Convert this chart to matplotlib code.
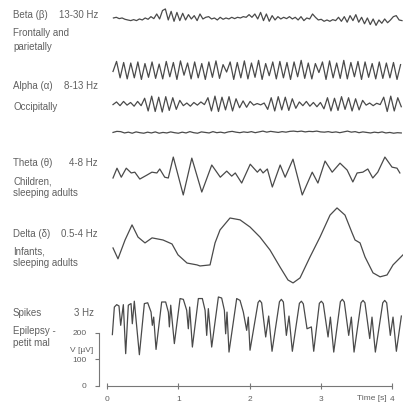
import matplotlib
matplotlib.use("Agg")
import matplotlib.pyplot as plt
import numpy as np

# --- data (µV) ---
beta_v = [0, 2.5, -2.5, 0, -5, -7.6, -10, -6.3, -10, -3.8, -7.6, 0, -5, 5, -2.5, 15,
          -3.8, 28, 34, -7.6, 25, -12.6, 21, -10, 17.6, -7.6, 12.6, -3.8, 8.8, -10, 15,
          -3.8, 2.5, 5, -3.8, 0, -7.6, 2.5, -5, 0, -3.8, 2.5, -2.5, 2.5, 0, 5, 2.5, 12.6,
          2.5,
          15, -3.8, 21, -10, 15, -12.6, 8.8, -7.6, 5, -3.8, 2.5, -2.5, 5, -3.8, 2.5, -7.6,
          5, -10, 0, -3.8, 15, 2.5, -7.6, -5, -12.6, -7.6, -12.6, -6.3, -10, 2.5, -12.6,
          5, -16, 8.8, -10, 12.6, -16, 2.5, -22, 0, -25, -3.8, -28, -7.6, -20, -3.8, -18,
          -7.6, 5, 8.8, -7.6, -10]

alpha1_v = [-6, 32, -30, 28, -34, 26, -30, 30, -36, 24,
            -28, 30, -32, 22, -34, 32, -26, 28, -36, 34,
            -20, 26, -34, 30, -30, 24, -36, 30, -28, 34,
            -32, 20, -8, 30, -36, 28, -30, 34, -34, 26,
            -28, 36, -36, 24, -22, 30, -34, 32, -30, 28,
            -36, 30, -26, 36, -32, 26, -34, 24, -10, 30,
            -36, 34, -30, 26, -32, 36, -34, 28, -26, 32,
            -36, 30, -28, 24, -34, 30, -32, 26, -30, 28,
            -36, 20]

alpha2_v = [-2, 8, -6, 10, -4, 6, -8, 10, -6,
            22, -26, 30, -28, 26, -30, 28, -24, 24, -20, 14,
            -6, 4, -8, 6, -4, 8, -2,
            24, -26, 30, -28, 26, -22, 28, -26, 20,
            -14, 12, -12, 10,
            -4, 2, -3, 4,
            -20, 24, -26, 28, -22, 26, -24, 20, -16,
            8, -6, 10, -8, 6, -10, 6,
            -18, 24, -26, 22, -24, 28, -20, 24, -26, 20, -22, 14,
            -4, 4, -6, 3, -2,
            26, -28, 30, -26, 24, -10]

flat_v = [0, 4, 3, -2, 1, -3, 2, -1, -3, 1, -2, 2, -3, 0, -2, 2, -1, -3, 1, -2,
          3, -1, -3, 2, 0, -2, 3, -1, 1, -2, 2, 4, 1, -1, 2, 0, 3, -1, 2, 5,
          1, 4, 2, 0, 3, 1, 4, 5, 3, 5, 2, 4, 3, 5, 2, 1, 3, 0, 2, -1,
          2, 5, 1, 3, -1, 2, 0, -2, 1, -1, 2, -2, 0, -3, -1, -2]

theta_t = [0.084, 0.14, 0.20, 0.27, 0.34, 0.39, 0.46, 0.56, 0.63, 0.70, 0.74, 0.81,
           0.86, 0.93, 1.07, 1.19, 1.33, 1.47, 1.59, 1.68, 1.75, 1.80, 1.89, 2.01,
           2.11, 2.15, 2.19, 2.25, 2.32, 2.43, 2.50, 2.61, 2.74, 2.88, 2.96, 3.06,
           3.16, 3.27, 3.37, 3.45, 3.51, 3.59, 3.66, 3.73, 3.80, 3.90, 4.00, 4.07, 4.11]
theta_v = [-11, 26, -8, 26, 8, 11, -15, 0, 11, 8, 23, -8,
           -11, 68, -75, 64, -64, 38, -8, 15, -4, 8, -30, 41,
           11, 23, 8, 23, -45, 38, -8, 60, -75, 11, -30, 53,
           11, 45, 19, -26, 8, 11, 23, -11, 11, 68, 30, 26, 8]

delta_t = [0.084, 0.154, 0.253, 0.351, 0.435, 0.533, 0.632, 0.786, 0.912, 0.996,
           1.123, 1.263, 1.305, 1.446, 1.516, 1.586, 1.726, 1.867, 2.007, 2.147,
           2.288, 2.428, 2.540, 2.611, 2.709, 2.849, 2.989, 3.130, 3.228, 3.340,
           3.439, 3.481, 3.551, 3.621, 3.733, 3.832, 3.930, 4.014, 4.154]
delta_v = [0, -41, 30, 87, 41, 19, 38, 30, 15, -26,
           -57, -64, -68, -64, 19, 68, 113, 106, 79, 41,
           -8, -72, -121, -132, -113, -34, 41, 124, 151, 124,
           57, 30, 19, -34, -94, -109, -102, -64, -26]

spike_t = [0.075, 0.103, 0.136, 0.168, 0.192, 0.229, 0.262, 0.299, 0.337, 0.355,
           0.383, 0.454, 0.524, 0.571, 0.618, 0.636, 0.655, 0.688, 0.767, 0.823,
           0.861, 0.875, 0.894, 0.945, 1.025, 1.071, 1.118, 1.141, 1.160, 1.198,
           1.282, 1.338, 1.376, 1.399, 1.422, 1.469, 1.563, 1.609, 1.647, 1.665,
           1.684, 1.712, 1.820, 1.867, 1.913, 1.960, 1.983, 2.007, 2.12, 2.143,
           2.17, 2.227, 2.269, 2.316, 2.42, 2.447, 2.475, 2.517, 2.554, 2.601,
           2.70, 2.728, 2.755, 2.807, 2.868, 2.901, 2.98, 3.008, 3.035, 3.102,
           3.135, 3.182, 3.275, 3.303, 3.33, 3.392, 3.429, 3.467, 3.565, 3.593,
           3.62, 3.687, 3.719, 3.766, 3.87, 3.897, 3.925, 3.976, 4.014, 4.061, 4.131]
spike_v = [194, 298, 307, 302, 229, 307, 122, 305, 311, 235,
           320, 118, 311, 314, 279, 229, 260, 138, 317, 317,
           279, 223, 305, 160, 330, 327, 286, 216, 298, 147,
           330, 330, 286, 191, 292, 147, 336, 332, 286, 197,
           279, 128, 330, 323, 279, 210, 260, 135, 315, 323,
           314, 185, 264, 131, 318, 327, 317, 191, 264, 131,
           312, 320, 310, 216, 223, 131, 312, 320, 311, 185,
           260, 128, 318, 327, 317, 191, 260, 128, 314, 323,
           314, 179, 260, 128, 314, 323, 314, 191, 260, 131, 264]

x_ticks = [0, 1, 2, 3, 4]
y_ticks = [0, 100, 200]

# (name, band, description lines, y of each line in px)
labels = [
    ("Beta (β)", "13-30 Hz", ["Frontally and", "parietally"], 15, [33, 46.5]),
    ("Alpha (α)", "8-13 Hz", ["Occipitally"], 86, [107]),
    ("Theta (θ)", "4-8 Hz", ["Children,", "sleeping adults"], 163, [181.5, 192.5]),
    ("Delta (δ)", "0.5-4 Hz", ["Infants,", "sleeping adults"], 234, [252, 263]),
    ("Spikes", "3 Hz", ["Epilepsy -", "petit mal"], 313, [330.5, 342.5]),
]

# --- figure ---
W, H = 403, 407
fig = plt.figure(figsize=(W / 100, H / 100), dpi=100)
ax = fig.add_axes([0, 0, 1, 1])
ax.set_xlim(-1.502, 4.154)
ax.set_ylim(-79.3, 1456.8)

line_kw = dict(color="#4a4a4a", lw=0.9, solid_joinstyle="round")
ax.plot(np.linspace(0.09, 4.14, len(beta_v)), np.array(beta_v) + 1389, **line_kw)
ax.plot(np.linspace(0.084, 4.12, len(alpha1_v)), np.array(alpha1_v) + 1193, **line_kw)
ax.plot(np.linspace(0.084, 4.13, len(alpha2_v)), np.array(alpha2_v) + 1064, **line_kw)
ax.plot(np.linspace(0.084, 4.13, len(flat_v)), np.array(flat_v) + 957, **line_kw)
ax.plot(theta_t, np.array(theta_v) + 796, **line_kw)
ax.plot(delta_t, np.array(delta_v) + 521, **line_kw)
ax.plot(spike_t, spike_v, **line_kw)

# axes as scale bars
for s in ["top", "right"]:
    ax.spines[s].set_visible(False)
ax.spines["left"].set_position(("data", -0.112))
ax.spines["left"].set_bounds(0, 200)
ax.spines["bottom"].set_position(("data", 0))
ax.spines["bottom"].set_bounds(0, 4)
for s in ["left", "bottom"]:
    ax.spines[s].set_color("#777777")
    ax.spines[s].set_linewidth(0.8)
ax.set_xticks(x_ticks)
ax.set_yticks(y_ticks)
ax.tick_params(axis="x", direction="inout", length=4, width=0.8, colors="#777777",
               labelcolor="#606060", labelsize=6, pad=5)
ax.tick_params(axis="y", direction="out", length=3, width=0.8, colors="#777777",
               labelcolor="#606060", labelsize=6, pad=6)
for lab in ax.get_xticklabels() + ax.get_yticklabels():
    lab.set_fontfamily("Liberation Sans")
ax.patch.set_visible(False)

txt = dict(fontsize=7, color="#606060", family="Liberation Sans", va="center")


def put(x, y, s, **kw):
    fig.text(x / W, 1 - y / H, s, **{**txt, **kw})


for name, band, desc, y0, ys in labels:
    put(13, y0, name)
    put(98 if band != "3 Hz" else 94, y0, band, ha="right")
    for d, y in zip(desc, ys):
        put(13, y, d)

put(93, 350, "V [µV]", ha="right", fontsize=6)
put(387, 398, "Time [s]", ha="right", fontsize=6)

fig.savefig("out.png", dpi=100, facecolor="white")
